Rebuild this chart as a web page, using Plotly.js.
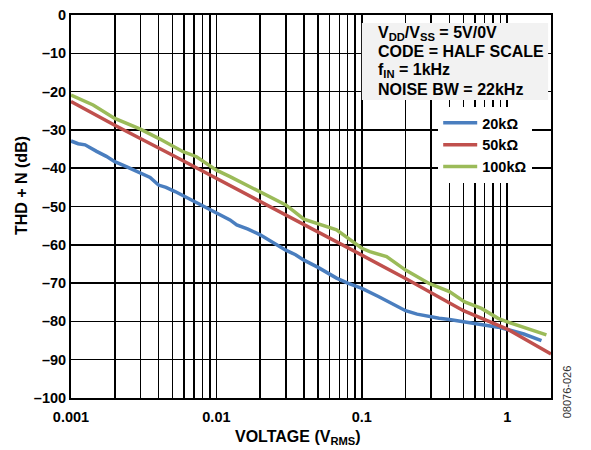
<!DOCTYPE html>
<html><head><meta charset="utf-8">
<script src="https://cdn.plot.ly/plotly-3.0.1.min.js"></script>
<style>html,body{margin:0;padding:0;background:#fff}#chart{width:591px;height:450px}</style>
</head><body><div id="chart"></div>
<script>
const FONT = "Liberation Sans, Arial, sans-serif";
const seriesNames = ["20kΩ", "50kΩ", "100kΩ"];
const seriesColors = ["#4a7ebf", "#c0504d", "#9bbb59"];

const blueX = [0.001, 0.00112, 0.00125, 0.00137, 0.0015, 0.00175, 0.002, 0.0024, 0.003, 0.0035, 0.004, 0.0045, 0.0052, 0.006, 0.0073, 0.0085, 0.01, 0.0124, 0.0138, 0.0165, 0.02, 0.025, 0.03, 0.035, 0.04, 0.05, 0.067, 0.08, 0.1, 0.13, 0.148, 0.175, 0.2, 0.24, 0.29, 0.34, 0.4, 0.51, 0.665, 0.865, 1.0, 1.3, 1.72];
const blueY = [-32.9, -33.6, -33.9, -34.8, -35.6, -36.9, -38.3, -39.6, -41.3, -42.4, -44.4, -45.0, -46.1, -47.3, -49.2, -50.4, -51.8, -53.5, -54.8, -55.9, -57.4, -59.6, -61.4, -62.6, -64.0, -65.9, -68.7, -70.0, -71.4, -73.5, -74.6, -76.2, -77.2, -78.1, -78.8, -79.2, -79.5, -80.1, -80.7, -81.5, -82.1, -83.3, -85.0];

const redX = [0.001, 0.002, 0.005, 0.01, 0.02, 0.05, 0.1, 0.2, 0.5, 1.0, 2.0];
const redY = [-22.6, -28.8, -36.6, -42.6, -48.7, -56.6, -62.7, -68.8, -77.2, -82.0, -88.5];

const greenX = [0.001, 0.00142, 0.002, 0.003, 0.004, 0.0059, 0.0073, 0.01, 0.0124, 0.02, 0.03, 0.04, 0.067, 0.1, 0.1135, 0.148, 0.2, 0.29, 0.4, 0.51, 0.665, 0.865, 1.0, 1.86];
const greenY = [-20.9, -23.5, -27.0, -29.8, -32.2, -35.7, -37.0, -40.5, -42.2, -46.1, -49.6, -53.3, -56.1, -60.9, -61.8, -63.1, -66.6, -70.1, -72.2, -74.9, -76.6, -79.2, -80.1, -83.5];

const xTickVals = [0.001, 0.01, 0.1, 1];
const xTickText = ["0.001", "0.01", "0.1", "1"];
const xMinorVals = [];
xTickVals.forEach(d => {
  for (let m = 2; m <= 9; m++) {
    const v = +(d * m).toPrecision(3);
    if (v <= 2.0001) xMinorVals.push(v);
  }
});

const yTickVals = [0, -10, -20, -30, -40, -50, -60, -70, -80, -90, -100];
const yTickText = ["0", "–10", "–20", "–30", "–40", "–50", "–60", "–70", "–80", "–90", "–100"];

const noteLines = ["V<sub>DD</sub>/V<sub>SS</sub> = 5V/0V", "CODE = HALF SCALE", "f<sub>IN</sub> = 1kHz", "NOISE BW = 22kHz"];
const noteY = [0.952, 0.904, 0.855, 0.806];
const xTitle = "VOLTAGE (V<sub>RMS</sub>)";
const yTitle = "THD + N (dB)";
const figCode = "08076-026";

const xs = [blueX, redX, greenX], ys = [blueY, redY, greenY];
const traces = xs.map((x, i) => ({
  x: x, y: ys[i], type: "scatter", mode: "lines", name: seriesNames[i],
  line: {color: seriesColors[i], width: 3.5}
}));

const annotations = noteLines.map((t, i) => ({
  xref: "paper", yref: "paper", x: 0.6354, y: noteY[i], xanchor: "left", yanchor: "middle", align: "left",
  showarrow: false, text: t, font: {family: FONT, size: 16, weight: "bold", color: "#000"}
}));
annotations.push(
  {xref: "paper", yref: "paper", x: 1.035, y: 0.017, xanchor: "center", yanchor: "middle", textangle: -90,
   showarrow: false, text: figCode, font: {family: FONT, size: 11, color: "#333"}},
  {xref: "paper", yref: "paper", x: 0.473, y: -0.103, xanchor: "center", yanchor: "middle",
   showarrow: false, text: xTitle, font: {family: FONT, size: 16, weight: "bold", color: "#000"}},
  {xref: "paper", yref: "paper", x: -0.104, y: 0.5535, xanchor: "center", yanchor: "middle", textangle: -90,
   showarrow: false, text: yTitle, font: {family: FONT, size: 16, weight: "bold", color: "#000"}}
);

const layout = {
  width: 591, height: 450,
  margin: {l: 71, r: 40, t: 15, b: 52},
  paper_bgcolor: "#fff", plot_bgcolor: "#fff",
  font: {family: FONT, size: 14, color: "#000"},
  showlegend: true,
  legend: {x: 0.765, y: 0.76, xanchor: "left", yanchor: "top", bgcolor: "#fff", borderwidth: 0,
    itemwidth: 34, font: {family: FONT, size: 14.5, color: "#000", weight: "bold"}},
  xaxis: {type: "log", range: [-3, Math.log10(2)], tickmode: "array", tickvals: xTickVals, ticktext: xTickText,
    showgrid: true, gridcolor: "#000", gridwidth: 1.5, ticks: "", zeroline: false,
    minor: {tickmode: "array", tickvals: xMinorVals, showgrid: true, gridcolor: "#000", gridwidth: 1.5, ticks: ""},
    showline: true, linecolor: "#000", linewidth: 2, mirror: true, ticklabelstandoff: 5,
    tickfont: {family: FONT, size: 14.5, weight: "bold"}},
  yaxis: {range: [-100, 0], tickmode: "array", tickvals: yTickVals, ticktext: yTickText,
    showgrid: true, gridcolor: "#000", gridwidth: 1.5, ticks: "", zeroline: false,
    showline: true, linecolor: "#000", linewidth: 2, mirror: true,
    tickfont: {family: FONT, size: 14.5, weight: "bold"}},
  shapes: [{type: "rect", xref: "paper", yref: "paper", x0: 0.606, x1: 0.994, y0: 0.778, y1: 0.979,
    fillcolor: "#f2f2f2", line: {width: 0}, layer: "above"}],
  annotations: annotations
};

Plotly.newPlot("chart", traces, layout, {displayModeBar: false, staticPlot: true});
</script></body></html>
